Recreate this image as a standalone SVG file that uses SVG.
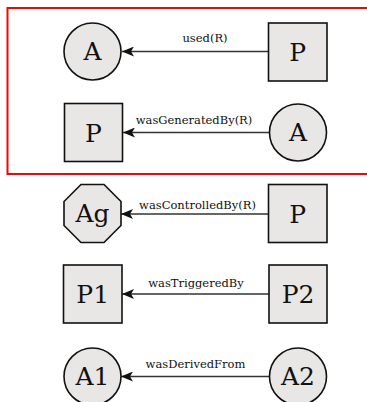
<svg xmlns="http://www.w3.org/2000/svg" width="367" height="402" viewBox="0 0 367 402">
<defs>
<marker id="arr" viewBox="0 0 12 10" refX="12" refY="5" markerWidth="12" markerHeight="10" markerUnits="userSpaceOnUse" orient="auto">
<path d="M0,0 L12,5 L0,10 L3,5 Z" fill="#111"/>
</marker>
</defs>
<style>
.n{fill:#e8e7e5;stroke:#111;stroke-width:1.6}
.t{font-family:"DejaVu Serif","Liberation Serif",serif;font-size:25px;fill:#111;text-anchor:middle}
.l{font-family:"DejaVu Serif","Liberation Serif",serif;font-size:11.5px;fill:#111;text-anchor:middle}
.e{stroke:#333;stroke-width:1.3;fill:none;marker-end:url(#arr)}
</style>
<rect x="7.5" y="8" width="365" height="166" fill="none" stroke="#f00" stroke-width="2"/>
<g id="connectors">
<line class="e" x1="268" y1="51.5" x2="122" y2="51.5"/>
<text class="l" x="205" y="42">used(R)</text>
<line class="e" x1="269" y1="132.5" x2="123" y2="132.5"/>
<text class="l" x="194" y="124">wasGeneratedBy(R)</text>
<line class="e" x1="268" y1="214" x2="121" y2="214"/>
<text class="l" x="197.5" y="209">wasControlledBy(R)</text>
<line class="e" x1="269" y1="294" x2="122" y2="294"/>
<text class="l" x="196" y="287">wasTriggeredBy</text>
<line class="e" x1="269" y1="376.5" x2="121" y2="376.5"/>
<text class="l" x="195.5" y="368">wasDerivedFrom</text>
</g>
<g id="n1"><circle class="n" cx="92.5" cy="51.5" r="28.5"/><text class="t" x="92.5" y="60">A</text></g>
<g id="n2"><rect class="n" x="268.5" y="23" width="58.5" height="58"/><text class="t" x="297.7" y="61">P</text></g>
<g id="n3"><rect class="n" x="64.5" y="103.5" width="58" height="58"/><text class="t" x="93.5" y="142">P</text></g>
<g id="n4"><circle class="n" cx="298" cy="132.5" r="28.5"/><text class="t" x="298" y="141">A</text></g>
<g id="n5"><polygon class="n" points="81,184.5 104,184.5 121,201.5 121,225.5 104,242.5 81,242.5 64,225.5 64,201.5"/><text class="t" x="92.5" y="222">Ag</text></g>
<g id="n6"><rect class="n" x="268.5" y="184.5" width="58.5" height="58"/><text class="t" x="297.7" y="223">P</text></g>
<g id="n7"><rect class="n" x="63.5" y="265" width="58.5" height="58"/><text class="t" x="92.7" y="303">P1</text></g>
<g id="n8"><rect class="n" x="269" y="265" width="58" height="58"/><text class="t" x="298" y="303">P2</text></g>
<g id="n9"><circle class="n" cx="92.5" cy="376.5" r="28.5"/><text class="t" x="92.5" y="385">A1</text></g>
<g id="n10"><circle class="n" cx="298" cy="376.5" r="28.5"/><text class="t" x="298" y="385">A2</text></g>
</svg>
